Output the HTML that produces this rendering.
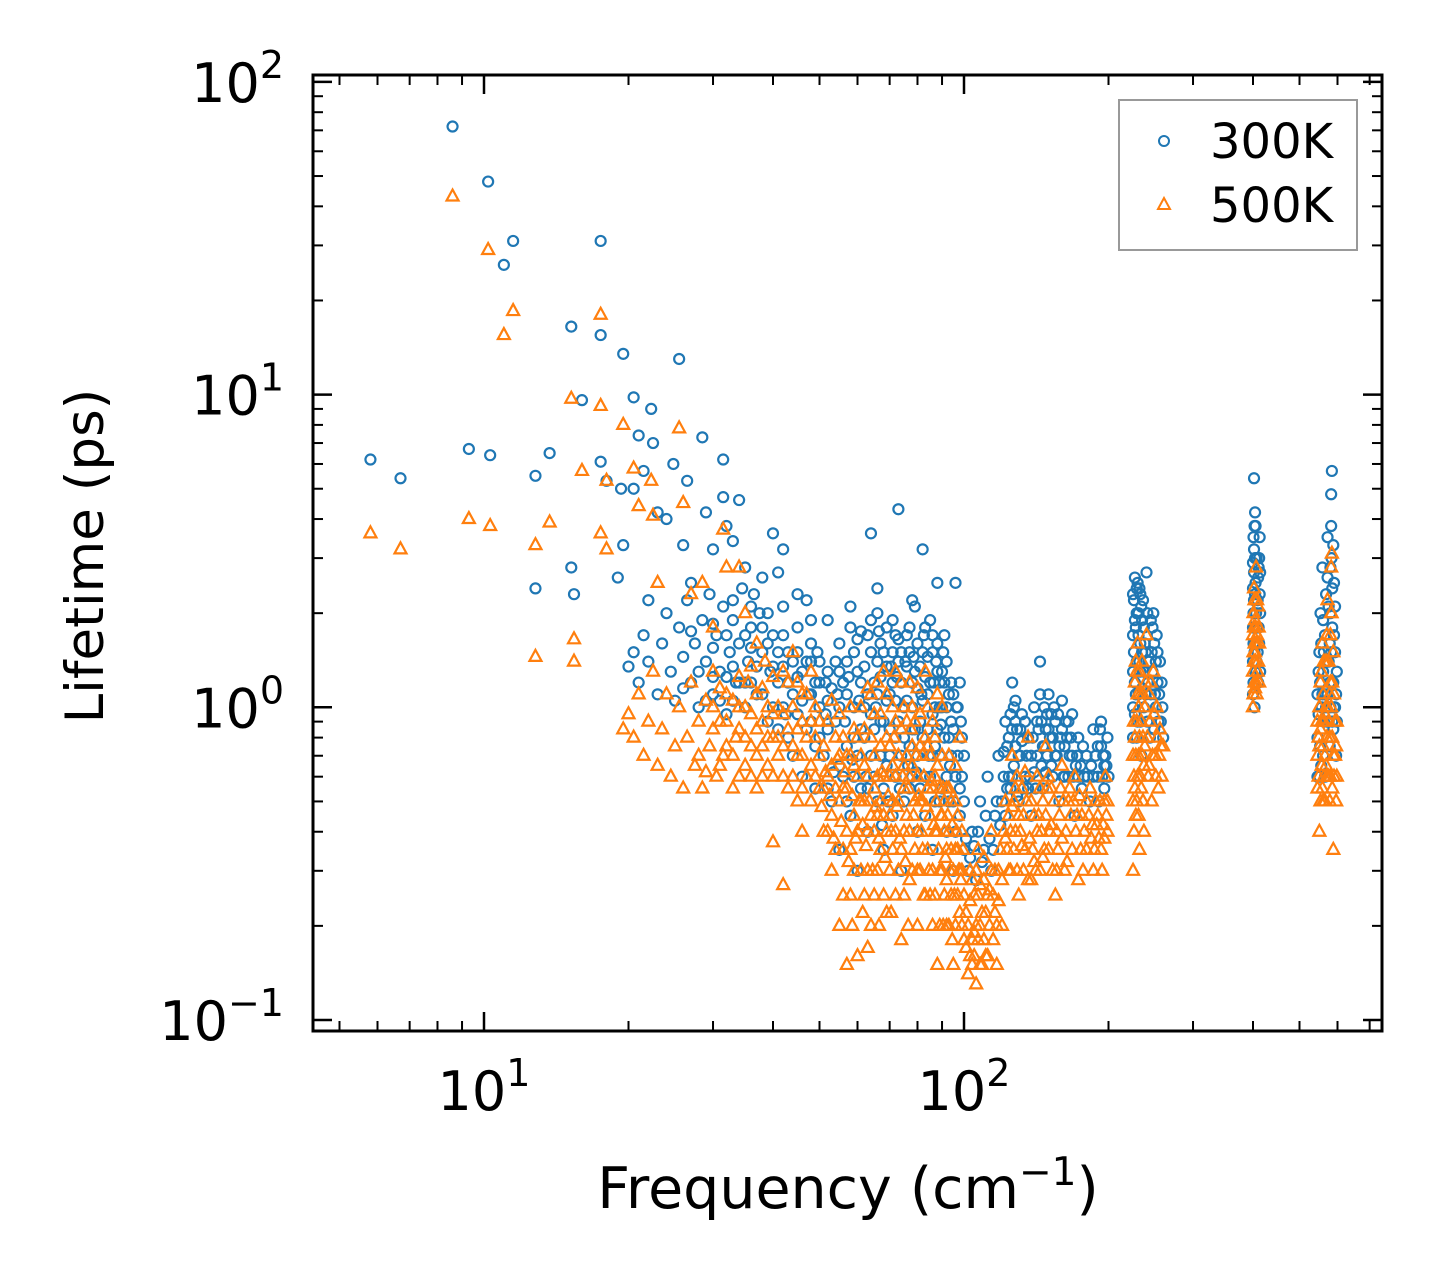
<!DOCTYPE html>
<html><head><meta charset="utf-8"><style>
html,body{margin:0;padding:0;background:#fff;}
svg{display:block;font-family:"DejaVu Sans","Liberation Sans",sans-serif;}
</style></head><body>
<svg id="chart" width="1442" height="1281" viewBox="0 0 1442 1281">
<rect x="0" y="0" width="1442" height="1281" fill="#fff"/>
<g id="marks"></g>
<g id="axes"></g>
<rect x="313" y="75" width="1069" height="956" fill="none" stroke="#000" stroke-width="3"/>
<text x="848" y="1208" font-size="57" text-anchor="middle">Frequency (cm<tspan font-size="39" dy="-23">−1</tspan><tspan dy="23">)</tspan></text>
<text transform="translate(103,556) rotate(-90)" font-size="53" text-anchor="middle">Lifetime (ps)</text>
<g>
<rect x="1119" y="100" width="238" height="150" fill="#fff" fill-opacity="0.8" stroke="#999" stroke-width="2"/>
<circle cx="1164" cy="141" r="5" fill="none" stroke="#1f77b4" stroke-width="2"/>
<text x="1210" y="158" font-size="48">300K</text>
<path d="M1164,198 L1170,209 L1158,209 Z" fill="none" stroke="#ff7f0e" stroke-width="2"/>
<text x="1210" y="222" font-size="48">500K</text>
</g>
</svg>
<script>
const xTicks = [10, 100];
const xTickLabels = ["1", "2"];
const yTicks = [0.1, 1, 10, 100];
const yTickExps = ["−1", "0", "1", "2"];
const pts300 = [
[5.8,6.2],[6.7,5.4],[8.6,72],[9.3,6.7],[10.2,48],[10.3,6.4],[11,26],[11.5,31],[12.8,5.5],[12.8,2.4],[13.7,6.5],[15.2,16.5],[15.2,2.8],[15.4,2.3],[16,9.6],[17.5,31],[17.5,15.5],[17.5,6.1],[18,5.3],[19,2.6],[19.3,5],[19.5,13.5],[19.5,3.3],[20.5,9.8],[20.5,5],[21,7.4],[21.5,5.7],[22.3,9],[22.5,7],[23,4.2],[24,4],[24.8,6],[25.5,13],[26,3.3],[26.5,5.3],[27,2.5],[28.5,7.3],[29,4.2],[30,3.2],[31.5,6.2],[31.5,4.7],[32,3.8],[33,3.4],[34,4.6],[35,2.8],[36.5,2.3],[38,2.6],[40,3.6],[41,2.7],[42,3.2],[45,2.3],[47,2.2],[52,1.9],[58,2.1],[64,3.6],[66,2.4],[73,4.3],[78,2.2],[82,3.2],[88,2.5],[96,2.5],
[20,1.35],[20.5,1.5],[21,1.2],[21.5,1.7],[22,2.2],[22,1.4],[23,1.1],[23.5,1.6],[24,2.0],[24.5,1.3],[25,1.05],[25.5,1.8],[26,1.45],[26.5,2.2],[27,1.2],[27.5,1.6],[28,1.0],[28.5,1.9],[29,1.4],[29.5,2.3],[30,1.1],[30.5,1.7],[31,1.3],[31.5,2.1],[32,0.95],[32.5,1.5],[33,1.9],[33.5,1.2],[34,1.6],[34.5,2.4],[35,1.0],[35.5,1.4],[36,1.8],[37,1.1],[37.5,2.0],[38,1.5],[39,0.9],[39.5,1.3],[40,1.7],[41,1.2],[42,2.1],[42.5,0.95],[43,1.5],[44,1.1],[45,1.8],[46,1.3],[47,0.85],[48,1.6],[49,1.2],[50,1.0],
[26,1.15],[27,1.75],[28,1.3],[29,1.05],[30,1.25],[30,1.55],[30,1.85],[31,1.05],[32,1.25],[32,1.7],[33,1.05],[33,1.35],[33,2.2],[34,1.2],[35,1.2],[35,1.7],[36,1.2],[36,1.55],[36,2.1],[37,1.35],[38,1.1],[38,1.8],[39,1.6],[39,2.0],[40,1.0],[40,1.35],[41,1.5],[41,0.85],[42,1.0],[42,1.35],[42,1.7],[43,0.8],[43,1.2],[44,0.7],[44,1.4],[45,0.95],[45,1.25],[45,1.5],[46,0.6],[46,1.05],[47,1.4],[48,0.9],[48,1.1],[48,1.4],[48,1.9],[49,0.55],[49,0.75],[50,1.4],[50,1.2],[50,0.8],
[51,0.7],[52,1.3],[53,0.5],[54,0.9],[55,1.6],[55,0.35],[56,0.6],[57,1.1],[58,0.45],[58,1.8],[59,0.8],[60,1.3],[60,0.3],[61,0.55],[62,1.0],[63,1.7],[63,0.4],[64,0.7],[65,1.2],[66,2.0],[66,0.5],[67,0.9],[68,1.5],[68,0.35],[69,0.65],[70,1.1],[71,1.9],[71,0.45],[72,0.8],[73,1.4],[74,0.3],[75,1.0],[76,1.7],[77,0.55],[78,1.2],[79,2.1],[80,0.4],[81,0.9],[82,1.5],[83,0.6],[84,1.1],[85,1.9],[86,0.35],[87,0.75],[88,1.3],[89,0.5],[90,1.0],[91,1.7],[92,0.4],[93,0.8],[94,1.2],[95,0.3],[96,0.6],[97,1.0],[98,0.45],[99,0.8],[100,0.35],
[52,1.05],[54,1.4],[56,1.2],[59,1.5],[61,1.75],[64,1.9],[67,1.6],[69,1.8],[72,1.7],[74,1.5],[77,1.8],[80,1.6],[83,1.8],[86,1.5],[89,1.2],[92,1.4],[95,1.1],[98,1.2],[62,0.8],[70,0.7],[78,0.85],[86,0.95],[94,0.9],
[52,0.55],[52,0.85],[53,1.15],[55,0.65],[55,1.0],[55,1.3],[57,0.5],[57,0.75],[57,1.4],[59,0.6],[59,1.0],[60,0.7],[60,1.65],[61,0.85],[61,1.2],[62,1.35],[63,0.55],[63,1.1],[64,0.95],[64,1.5],[65,0.6],[65,0.85],[66,1.1],[66,1.4],[67,0.7],[67,1.25],[68,0.55],[68,0.9],[69,1.05],[69,1.35],[70,0.5],[70,0.85],[71,1.2],[71,1.5],[72,0.6],[72,1.05],[73,0.9],[73,1.65],[74,0.7],[74,1.2],[75,0.5],[75,0.8],[76,1.05],[76,1.35],[77,0.75],[77,1.5],[78,0.6],[78,1.0],[79,0.85],[79,1.3],[80,0.7],[80,1.15],[81,0.55],[81,1.35],[82,0.8],[82,1.05],[83,1.25],[83,0.45],[84,0.85],[84,1.45],[85,0.6],[85,1.2],[86,0.7],[86,1.7],[87,1.0],[87,0.5],[88,0.85],[88,1.6],[89,0.7],[89,1.0],[90,0.55],[90,1.3],[91,0.8],[91,1.2],[92,0.6],[92,1.0],[93,0.5],[93,1.1],[94,0.7],[95,0.5],[95,0.85],[96,0.4],[97,0.7],[98,0.55],[99,0.6],[100,0.5],[100,0.7],
[53.5,0.62],[54.5,1.1],[56.5,0.9],[57.5,1.25],[58.5,0.68],[60.5,1.05],[62.5,0.6],[65.5,1.0],[66.5,1.75],[67.5,0.42],[69.5,0.5],[70.5,1.35],[72.5,1.25],[73.5,0.55],[75.5,1.4],[76.5,0.65],[78.5,1.45],[79.5,0.62],[81.5,1.1],[82.5,1.7],[84.5,0.7],[86.5,1.2],[87.5,1.4],[89.5,0.88],[90.5,1.5],[93.5,0.65],[96.5,1.0],[98.5,0.9],[47.5,1.1],[49.5,1.5],[51.5,0.95],[51.5,1.2],
[102,0.3],[104,0.4],[106,0.28],[108,0.5],[110,0.35],[112,0.6],[114,0.3],[116,0.45],[118,0.7],[120,0.5],[122,0.9],[124,0.6],[126,1.2],[128,0.75],[130,0.5],[132,0.95],[134,0.6],[136,0.8],[138,0.45],[140,1.0],[142,0.7],[144,1.4],[146,0.55],[148,0.85],[150,1.1],[152,0.65],[155,0.9],[158,0.5],[160,1.05],[162,0.75],[165,0.6],[168,0.95],[170,0.45],[173,0.8],[176,0.55],[180,0.7],[183,0.5],[186,0.85],[190,0.6],[193,0.75],[196,0.55],[199,0.8],
[123,0.75],[125,0.95],[127,1.0],[129,0.85],[131,0.7],[145,0.9],[147,1.0],[149,0.7],[153,0.8],[157,0.95],[163,0.9],[167,0.8],[171,0.65],[192,0.85],[195,0.7],[198,0.65],
[101,0.38],[103,0.33],[105,0.36],[107,0.4],[109,0.32],[111,0.45],[113,0.38],[115,0.35],[117,0.5],[119,0.42],[121,0.6],[122,0.45],[124,0.8],[125,0.55],[127,0.65],[128,0.9],[130,0.7],[131,0.85],[133,0.55],[135,0.7],[137,0.6],[139,0.8],[141,0.55],[143,0.85],[145,0.65],[147,0.75],[149,0.95],[151,0.8],[153,0.6],[154,1.0],[156,0.7],[159,0.8],[161,0.6],[164,0.8],[166,0.7],[169,0.6],[172,0.7],[175,0.65],[178,0.6],[181,0.6],[184,0.65],[188,0.7],[191,0.5],[194,0.6],[197,0.7],[200,0.6],
[121,0.72],[123,0.55],[126,0.85],[126,0.6],[128,1.05],[129,0.52],[132,0.78],[134,0.9],[136,0.55],[138,0.7],[140,0.62],[142,0.9],[144,1.1],[146,0.75],[148,0.62],[150,0.85],[152,0.95],[155,0.7],[158,0.75],[160,0.85],[162,0.6],[165,0.9],[168,0.7],[173,0.6],[177,0.75],[186,0.6],[190,0.75],[193,0.9],[196,0.65],
[225,0.8],[226,1.5],[227,2.6],[228,1.1],[229,2.0],[230,0.9],[231,1.7],[232,2.4],[233,1.3],[234,0.7],[235,1.9],[236,2.2],[237,1.0],[238,1.6],[240,2.7],[242,1.2],[244,0.8],[246,1.5],[248,2.0],[250,1.1],[252,1.7],[254,0.9],[256,1.4],[258,1.2],[260,0.8],[226,2.2],[228,1.8],[230,2.5],[232,1.4],[234,2.1],[247,1.8],[251,1.4],
[225,1.0],[225,1.3],[225,1.7],[225,2.3],[227,0.95],[227,1.2],[227,1.9],[229,0.8],[229,1.4],[229,2.4],[231,1.1],[231,2.0],[233,0.9],[233,1.6],[233,2.3],[235,1.15],[235,1.5],[237,1.3],[237,1.8],[239,1.1],[239,1.5],[241,0.9],[241,2.0],[243,1.4],[245,1.1],[245,1.9],[247,1.3],[249,0.85],[249,1.6],[251,1.0],[253,1.2],[253,1.5],[255,1.1],[257,0.9],[259,1.0],
[400,1.1],[401,2.0],[402,3.2],[403,1.5],[404,4.2],[405,2.5],[406,1.3],[407,3.0],[408,1.8],[409,2.2],[410,1.2],[411,2.8],[412,1.6],[413,3.5],[414,2.0],[402,5.4],[405,3.8],[412,3.0],
[400,1.4],[400,1.8],[400,2.4],[400,2.9],[401,1.2],[401,1.6],[401,3.5],[402,2.2],[402,2.7],[403,1.0],[403,1.8],[403,3.8],[404,1.3],[404,2.3],[404,3.0],[405,1.6],[406,2.0],[407,1.4],[409,1.5],[410,2.6],[411,1.8],[413,2.3],[414,1.3],[414,2.7],
[545,0.8],[548,1.3],[550,0.6],[553,2.0],[556,1.0],[558,2.8],[560,0.7],[562,1.5],[565,1.1],[568,2.3],[570,0.9],[572,3.5],[575,1.4],[578,0.75],[580,2.0],[582,4.8],[585,1.2],[588,0.85],[590,1.7],[593,1.0],[596,0.7],[598,1.3],[584,5.7],[583,3.0],[560,1.9],[590,2.5],
[545,1.1],[545,0.6],[548,0.95],[550,1.5],[552,0.75],[552,1.2],[555,1.6],[555,0.65],[558,1.1],[560,1.3],[562,0.9],[565,1.7],[565,0.6],[568,1.0],[570,1.4],[572,1.1],[572,2.6],[575,0.9],[575,2.1],[578,1.2],[578,1.6],[580,1.0],[580,2.8],[582,1.5],[582,3.8],[585,0.9],[585,1.8],[585,2.4],[588,1.2],[588,3.3],[590,1.0],[593,1.5],[593,2.1],[596,1.1],[598,0.9]
];
const pts500 = [
[5.8,3.6],[6.7,3.2],[8.6,43],[9.3,4],[10.2,29],[10.3,3.8],[11,15.5],[11.5,18.5],[12.8,3.3],[12.8,1.45],[13.7,3.9],[15.2,9.7],[15.4,1.65],[15.4,1.4],[16,5.7],[17.5,18],[17.5,9.2],[17.5,3.6],[18,5.3],[18,3.2],[19.5,8],[20.5,5.8],[21,4.4],[22.3,5.3],[22.5,4.1],[23,2.5],[25.5,7.8],[26,4.5],[27,2.3],[28.5,2.5],[30,1.8],[31.5,3.7],[32,2.8],[34,2.8],[35,2],[37,1.6],[40,0.37],[42,0.27],[46,0.4],
[19.5,0.85],[20,0.95],[20.5,0.8],[21,1.1],[21.5,0.7],[22,0.9],[22.5,1.3],[23,0.65],[23.5,0.85],[24,1.1],[24.5,0.6],[25,0.75],[25.5,1.0],[26,0.55],[26.5,0.8],[27,1.2],[27.5,0.65],[28,0.9],[28.5,0.55],[29,1.05],[29.5,0.75],[30,1.3],[30.5,0.6],[31,0.9],[31.5,0.7],[32,1.1],[33,0.55],[33.5,0.8],[34,1.0],[35,0.65],[35.5,1.2],[36,0.75],[37,0.55],[38,0.9],[38.5,1.4],[39,0.65],[40,0.8],[41,1.0],[42,0.6],[43,1.2],[44,0.75],[45,0.5],[46,0.9],[47,1.1],[48,0.65],[49,0.8],[50,0.55],
[28,0.7],[29,0.62],[30,0.85],[30,1.0],[31,0.65],[31,1.15],[32,0.75],[32,0.9],[33,0.7],[33,1.05],[34,0.6],[34,0.85],[34,1.25],[35,0.8],[35,1.0],[36,0.6],[36,0.95],[36,1.35],[37,0.7],[37,0.85],[37,1.1],[38,0.6],[38,0.75],[38,1.15],[39,0.8],[39,1.0],[40,0.6],[40,0.95],[40,1.25],[41,0.7],[41,0.8],[42,0.75],[42,0.95],[42,1.3],[43,0.55],[43,0.85],[44,0.6],[44,1.0],[44,1.5],[45,0.7],[45,0.85],[45,1.2],[46,0.55],[46,0.7],[46,1.1],[47,0.6],[47,0.8],[48,0.5],[48,0.9],[48,1.3],[49,0.6],[49,1.0],[50,0.7],[50,0.9],
[51,0.4],[52,0.6],[53,0.3],[54,0.8],[55,0.2],[55,0.5],[56,0.35],[57,0.7],[58,0.25],[58,1.0],[59,0.45],[60,0.16],[60,0.6],[61,0.3],[62,0.85],[63,0.4],[64,0.2],[64,1.1],[65,0.55],[66,0.3],[67,0.75],[68,0.45],[68,1.3],[69,0.22],[70,0.6],[71,0.35],[72,0.9],[73,0.5],[74,0.18],[74,1.2],[75,0.4],[76,0.7],[77,0.28],[78,1.0],[79,0.5],[80,0.2],[81,0.75],[82,0.35],[83,1.3],[84,0.55],[85,0.25],[86,0.9],[87,0.4],[88,0.15],[88,0.65],[89,0.3],[90,1.0],[91,0.5],[92,0.2],[93,0.7],[94,0.35],[95,0.15],[96,0.5],[97,0.25],[98,0.8],[99,0.4],[100,0.18],
[53,0.45],[56,0.55],[59,0.65],[62,0.5],[65,0.4],[67,0.5],[70,0.45],[72,0.6],[75,0.55],[78,0.65],[81,0.5],[84,0.75],[87,0.6],[90,0.45],[93,0.55],[96,0.35],[99,0.3],[57,0.15],[63,0.17],[72,0.25],[80,0.3],[86,0.2],[92,0.28],[98,0.22],
[51,0.55],[51,0.75],[52,0.4],[52,0.9],[53,0.65],[53,1.05],[54,0.35],[54,0.55],[55,0.7],[55,0.95],[56,0.25],[56,0.8],[57,0.4],[57,0.55],[58,0.35],[58,0.7],[59,0.3],[59,0.85],[60,0.4],[60,0.8],[61,0.5],[61,0.7],[61,1.0],[62,0.25],[62,0.65],[63,0.3],[63,0.6],[63,1.15],[64,0.45],[64,0.8],[65,0.25],[65,0.7],[65,0.95],[66,0.45],[66,0.6],[66,1.2],[67,0.35],[67,0.95],[68,0.25],[68,0.6],[69,0.4],[69,0.8],[69,1.1],[70,0.3],[70,0.75],[71,0.5],[71,0.65],[71,1.0],[72,0.4],[72,1.3],[73,0.3],[73,0.7],[74,0.35],[74,0.85],[75,0.25],[75,0.65],[75,1.0],[76,0.45],[76,0.9],[77,0.4],[77,0.6],[77,1.2],[78,0.3],[78,0.75],[79,0.35],[79,0.9],[80,0.4],[80,0.6],[80,1.15],[81,0.3],[81,0.95],[82,0.5],[82,0.7],[83,0.25],[83,0.8],[84,0.35],[84,1.0],[85,0.45],[85,0.7],[86,0.3],[86,0.55],[87,0.25],[87,0.8],[88,0.4],[88,1.1],[89,0.2],[89,0.55],[90,0.3],[90,0.7],[91,0.25],[91,0.4],[92,0.35],[92,0.55],[93,0.2],[93,0.4],[94,0.25],[94,0.5],[95,0.3],[96,0.2],[96,0.65],[97,0.35],[97,0.45],[98,0.3],[99,0.2],[100,0.25],
[50.5,0.48],[51.5,0.62],[52.5,0.52],[53.5,0.38],[54.5,0.68],[55.5,0.43],[56.5,0.62],[57.5,0.32],[58.5,0.52],[59.5,0.38],[60.5,0.5],[61.5,0.42],[62.5,0.36],[63.5,0.5],[64.5,0.3],[65.5,0.48],[66.5,0.38],[67.5,0.62],[68.5,0.33],[69.5,0.52],[70.5,0.4],[71.5,0.8],[72.5,0.48],[73.5,0.38],[74.5,0.6],[75.5,0.32],[76.5,0.55],[77.5,0.85],[78.5,0.45],[79.5,0.7],[80.5,0.52],[81.5,0.4],[82.5,0.6],[83.5,0.48],[84.5,0.3],[85.5,0.58],[86.5,0.42],[87.5,0.5],[88.5,0.35],[89.5,0.45],[90.5,0.55],[91.5,0.33],[92.5,0.45],[93.5,0.3],[94.5,0.42],[95.5,0.25],[96.5,0.4],[97.5,0.3],[98.5,0.28],[99.5,0.35],[58.5,0.2],[61.5,0.22],[66.5,0.2],[70.5,0.22],[76.5,0.2],[82.5,0.25],[90.5,0.2],[94.5,0.18],
[101,0.22],[102,0.14],[103,0.3],[104,0.18],[105,0.25],[106,0.13],[107,0.35],[108,0.2],[110,0.28],[112,0.16],[114,0.4],[116,0.22],[118,0.3],[120,0.2],[122,0.5],[124,0.3],[126,0.7],[128,0.4],[130,0.25],[132,0.55],[134,0.35],[136,0.8],[138,0.28],[140,0.45],[142,0.6],[144,0.3],[146,0.5],[148,0.75],[150,0.35],[152,0.55],[155,0.25],[158,0.45],[160,0.65],[162,0.3],[165,0.5],[168,0.35],[170,0.6],[173,0.28],[176,0.45],[180,0.35],[183,0.55],[186,0.3],[190,0.45],[193,0.35],[196,0.5],[199,0.4],
[103,0.16],[105,0.19],[109,0.15],[111,0.22],[113,0.26],[115,0.18],[117,0.15],[125,0.4],[127,0.5],[129,0.6],[133,0.45],[137,0.38],[145,0.4],[150,0.6],[156,0.4],[161,0.5],[185,0.42],[188,0.5],[194,0.3],[197,0.6],
[101,0.17],[102,0.2],[103,0.24],[104,0.15],[104,0.28],[105,0.16],[106,0.2],[106,0.3],[107,0.18],[107,0.25],[108,0.15],[108,0.27],[109,0.22],[110,0.18],[110,0.33],[111,0.16],[112,0.25],[113,0.2],[114,0.3],[115,0.25],[116,0.3],[117,0.2],[118,0.24],[119,0.35],[120,0.28],[121,0.4],[123,0.35],[124,0.45],[125,0.3],[127,0.35],[128,0.55],[129,0.3],[131,0.4],[133,0.3],[135,0.5],[136,0.28],[139,0.35],[141,0.3],[143,0.45],[147,0.35],[149,0.55],[151,0.4],[153,0.3],[157,0.35],[159,0.55],[163,0.4],[167,0.45],[171,0.4],[175,0.35],[178,0.4],[182,0.45],[187,0.35],[191,0.38],[195,0.42],[198,0.45],
[122,0.38],[126,0.48],[130,0.45],[132,0.36],[134,0.62],[138,0.5],[140,0.32],[142,0.4],[144,0.55],[146,0.33],[148,0.45],[152,0.42],[154,0.5],[156,0.3],[160,0.38],[164,0.32],[166,0.55],[169,0.5],[172,0.45],[174,0.52],[177,0.3],[180,0.5],[184,0.38],[189,0.42],[192,0.5],[196,0.38],[199,0.5],
[225,0.3],[226,0.6],[227,1.2],[228,0.45],[229,0.9],[230,1.6],[231,0.7],[232,0.35],[233,1.1],[234,0.55],[235,1.4],[236,0.8],[237,0.4],[238,1.0],[240,1.7],[242,0.6],[244,0.9],[246,0.5],[248,1.3],[250,0.7],[252,1.0],[254,0.55],[256,0.85],[258,0.6],[260,0.75],[227,0.8],[229,1.3],[231,1.0],[245,1.2],[249,0.95],
[225,0.5],[225,0.7],[226,0.4],[226,0.9],[227,0.55],[228,0.7],[228,1.4],[229,0.5],[230,0.6],[230,1.1],[231,0.45],[232,0.8],[232,1.3],[233,0.6],[234,0.9],[235,0.7],[236,0.5],[236,1.1],[237,0.65],[238,0.75],[239,1.2],[241,0.8],[243,0.65],[243,1.1],[247,0.7],[251,0.6],[253,0.8],[255,0.7],[257,0.75],
[400,1.0],[401,1.5],[402,2.4],[403,1.2],[404,1.9],[405,1.4],[406,2.8],[407,1.1],[408,1.7],[409,1.3],[410,2.1],[412,1.6],
[400,1.3],[400,1.7],[401,1.1],[401,2.0],[402,1.4],[402,1.8],[403,1.6],[403,2.2],[404,1.15],[404,1.5],[405,1.8],[406,1.2],[407,1.6],[408,2.2],[410,1.4],[411,1.8],[412,1.2],
[545,0.55],[548,0.8],[550,0.4],[553,1.2],[556,0.65],[558,1.6],[560,0.5],[562,0.9],[565,0.7],[568,1.4],[570,0.6],[572,2.2],[575,0.9],[578,0.5],[580,1.2],[582,2.8],[585,0.8],[588,0.35],[590,1.1],[593,0.7],[596,0.5],[598,0.9],[584,3.1],[583,2.0],
[545,0.7],[545,0.9],[548,0.6],[550,0.75],[550,1.0],[553,0.5],[553,0.85],[556,0.9],[556,1.3],[558,0.55],[560,0.75],[560,1.1],[562,0.6],[562,1.4],[565,0.95],[565,0.5],[568,0.65],[568,1.0],[570,0.8],[570,1.7],[572,1.0],[575,0.6],[575,1.4],[578,0.8],[578,1.1],[580,0.6],[580,1.7],[582,1.0],[582,2.0],[585,0.55],[585,1.2],[588,0.7],[588,1.5],[590,0.6],[593,0.9],[596,0.75],[598,0.6]
];

const NS = "http://www.w3.org/2000/svg";
const X0 = 484, XD = 480, Y0 = 707.3, YD = 312.7;
function xScale(v){ return X0 + (Math.log10(v) - 1) * XD; }
function yScale(v){ return Y0 - Math.log10(v) * YD; }
const axes = document.getElementById('axes');
const marks = document.getElementById('marks');
function line(x1,y1,x2,y2,w){
  const l = document.createElementNS(NS,'line');
  l.setAttribute('x1',x1); l.setAttribute('y1',y1); l.setAttribute('x2',x2); l.setAttribute('y2',y2);
  l.setAttribute('stroke','#000'); l.setAttribute('stroke-width',w);
  
  
  axes.appendChild(l);
}
const L = 313, R = 1382, T = 75, B = 1031;
for (let d = 1; d <= 100; d *= 10) {
  for (let m = 1; m <= 9; m++) {
    const v = d * m; const x = xScale(v);
    if (x < L || x > R) continue;
    const major = (m === 1);
    const len = major ? 19 : 10;
    line(x, B, x, B - len, major ? 2.5 : 2);
    line(x, T, x, T + len, major ? 2.5 : 2);
  }
}
for (let d = 0.1; d <= 100; d *= 10) {
  for (let m = 1; m <= 9; m++) {
    const v = d * m; const y = yScale(v);
    if (y < T - 1 || y > B) continue;
    const major = (m === 1);
    const len = major ? 19 : 10;
    line(L, y, L + len, y, major ? 2.5 : 2);
    line(R, y, R - len, y, major ? 2.5 : 2);
  }
}
xTicks.forEach((v, i) => {
  const t = document.createElementNS(NS,'text');
  t.setAttribute('x', xScale(v)); t.setAttribute('y', 1110);
  t.setAttribute('font-size', 54); t.setAttribute('text-anchor','middle');
  t.innerHTML = '10<tspan font-size="38" dy="-24">' + xTickLabels[i] + '</tspan>';
  
  
  axes.appendChild(t);
});
yTicks.forEach((v, i) => {
  const t = document.createElementNS(NS,'text');
  t.setAttribute('x', 284); t.setAttribute('y', yScale(v) + 20);
  t.setAttribute('font-size', 54); t.setAttribute('text-anchor','end');
  t.innerHTML = '10<tspan font-size="38" dy="-24">' + yTickExps[i] + '</tspan>';
  
  
  axes.appendChild(t);
});
const freq300 = pts300.map(p => p[0]), life300 = pts300.map(p => p[1]);
const freq500 = pts500.map(p => p[0]), life500 = pts500.map(p => p[1]);
freq300.forEach((f, i) => {
  const c = document.createElementNS(NS,'circle');
  c.setAttribute('cx', xScale(f)); c.setAttribute('cy', yScale(life300[i])); c.setAttribute('r', 5);
  c.setAttribute('fill','none'); c.setAttribute('stroke','#1f77b4'); c.setAttribute('stroke-width', 2.2);
  
  
  marks.appendChild(c);
});
freq500.forEach((f, i) => {
  const x = xScale(f), y = yScale(life500[i]);
  const p = document.createElementNS(NS,'path');
  p.setAttribute('d', `M${x},${y-7} L${x+6},${y+4} L${x-6},${y+4} Z`);
  p.setAttribute('fill','none'); p.setAttribute('stroke','#ff7f0e'); p.setAttribute('stroke-width', 2.2);
  
  
  marks.appendChild(p);
});
</script>
</body></html>
